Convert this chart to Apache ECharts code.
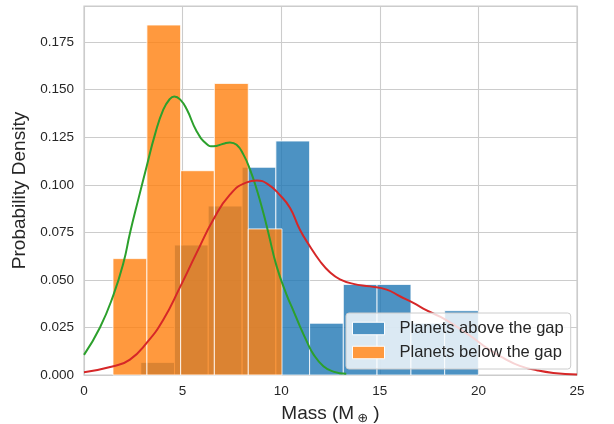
<!DOCTYPE html>
<html>
<head>
<meta charset="utf-8">
<script src="https://cdn.jsdelivr.net/npm/echarts@6/dist/echarts.min.js"></script>
<style>
html,body{margin:0;padding:0;background:#fff;}
#chart{width:614px;height:424px;}
</style>
</head>
<body>
<div id="chart"></div>
<script>
// Histogram: planets above the gap (blue)
const aboveEdges = [2.88, 4.59, 6.30, 8.02, 9.73, 11.44, 13.15, 14.86, 16.58, 18.29, 20.0];
const aboveHeights = [0.0066, 0.0683, 0.0888, 0.1092, 0.1230, 0.0272, 0.0476, 0.0476, 0.0272, 0.0338];
// Histogram: planets below the gap (orange)
const belowEdges = [1.47, 3.19, 4.90, 6.61, 8.33, 10.04];
const belowHeights = [0.0612, 0.1840, 0.1074, 0.1533, 0.0768];
// KDE curve: below the gap (green)
const kdeBelowX = [0, 0.81, 1.49, 2.0, 2.33, 2.75, 3.18, 3.60, 4.02, 4.36, 4.58, 4.87, 5.21, 5.71, 6.22, 6.56, 7.07, 7.40, 7.74, 8.08, 8.42, 8.76, 9.10, 9.35, 9.77, 10.28, 10.61, 10.95, 11.29, 11.63, 12.14, 12.64, 13.3];
const kdeBelowY = [0.0106, 0.0250, 0.0420, 0.0590, 0.0745, 0.0922, 0.1097, 0.1265, 0.1395, 0.1452, 0.1464, 0.1449, 0.1397, 0.1282, 0.1214, 0.1202, 0.1216, 0.1223, 0.1210, 0.1160, 0.1080, 0.0975, 0.0850, 0.0747, 0.0571, 0.0420, 0.0340, 0.0256, 0.0178, 0.0110, 0.0046, 0.0018, 0.0006];
// KDE curve: above the gap (red)
const kdeAboveX = [0, 1.49, 2.33, 3.18, 4.02, 4.87, 5.71, 6.56, 7.40, 8.25, 8.76, 9.30, 9.94, 10.45, 10.95, 11.46, 11.97, 12.47, 12.98, 13.66, 14.50, 15.35, 16.02, 16.70, 17.38, 18.08, 18.78, 19.60, 20.45, 21.30, 22.10, 23.0, 23.8, 25.0];
const kdeAboveY = [0.0015, 0.0046, 0.0081, 0.0169, 0.0291, 0.0462, 0.0642, 0.0817, 0.0948, 0.1013, 0.1022, 0.1005, 0.0945, 0.0878, 0.0764, 0.0676, 0.0598, 0.0540, 0.0503, 0.0479, 0.0466, 0.0449, 0.0414, 0.0379, 0.0340, 0.0305, 0.0262, 0.0205, 0.0140, 0.0088, 0.0048, 0.0024, 0.0011, 0.0003];
const xTicks = [0, 5, 10, 15, 20, 25];
const yTickStep = 0.025;

function bins(edges, heights) {
  return heights.map((h, i) => [edges[i], edges[i + 1], h]);
}
function pairs(xs, ys) { return xs.map((x, i) => [x, ys[i]]); }
function histSeries(name, data, color) {
  return {
    name: name, type: 'custom', data: data,
    encode: {x: [0, 1], y: 2},
    itemStyle: {color: color},
    renderItem: function (params, api) {
      const p0 = api.coord([api.value(0), api.value(2)]);
      const p1 = api.coord([api.value(1), 0]);
      return {
        type: 'rect',
        shape: {x: p0[0], y: p0[1], width: p1[0] - p0[0], height: p1[1] - p0[1]},
        style: {fill: color, stroke: '#ffffff', lineWidth: 1, opacity: 0.8}
      };
    }
  };
}

const chart = echarts.init(document.getElementById('chart'));
const txt = '#262626';
const ff = 'Liberation Sans, Arial, sans-serif';
chart.setOption({
  animation: false,
  grid: {left: 84, right: 37, top: 6, bottom: 49, show: true, borderColor: '#cccccc', borderWidth: 1.25,
    backgroundColor: 'transparent', containLabel: false, outerBoundsMode: 'none'},
  xAxis: {
    type: 'value', min: xTicks[0], max: xTicks[xTicks.length - 1], interval: 5,
    axisLine: {show: false}, axisTick: {show: false},
    splitLine: {show: true, lineStyle: {color: '#cccccc', width: 1.1}},
    axisLabel: {color: txt, fontSize: 13.5, margin: 9, fontFamily: ff},
    name: 'Mass (M{s|⊕} )', nameLocation: 'middle', nameGap: 28,
    nameTextStyle: {color: txt, fontSize: 19, fontFamily: ff,
      rich: {s: {fontSize: 13, color: txt, padding: [9, 0, 0, 3], fontFamily: 'DejaVu Sans, sans-serif'}}}
  },
  yAxis: {
    type: 'value', min: 0, max: 0.194, interval: yTickStep,
    axisLine: {show: false}, axisTick: {show: false},
    splitLine: {show: true, lineStyle: {color: '#cccccc', width: 1.1}},
    axisLabel: {color: txt, fontSize: 13.5, margin: 10, fontFamily: ff,
      formatter: function (v) {
        const k = v / yTickStep;
        return Math.abs(k - Math.round(k)) < 1e-6 ? v.toFixed(3) : '';
      }},
    name: 'Probability Density', nameLocation: 'middle', nameGap: 45, nameRotate: 90,
    nameTextStyle: {color: txt, fontSize: 19, fontFamily: ff}
  },
  legend: {
    orient: 'vertical', left: 346, top: 313, z: 10,
    padding: [7, 7, 8, 6], itemGap: 7, itemWidth: 32, itemHeight: 12.5,
    backgroundColor: 'rgba(255,255,255,0.8)', borderColor: '#cccccc', borderWidth: 1, borderRadius: 3,
    textStyle: {color: txt, fontSize: 16.5, lineHeight: 16, padding: [0, 0, 0, 10], fontFamily: ff},
    data: [
      {name: 'Planets above the gap', icon: 'rect', itemStyle: {color: '#4c92c3', borderColor: '#ffffff', borderWidth: 1}},
      {name: 'Planets below the gap', icon: 'rect', itemStyle: {color: '#ff993e', borderColor: '#ffffff', borderWidth: 1}}
    ]
  },
  series: [
    histSeries('Planets above the gap', bins(aboveEdges, aboveHeights), '#1f77b4'),
    histSeries('Planets below the gap', bins(belowEdges, belowHeights), '#ff7f0e'),
    {name: 'kde below', type: 'line', data: pairs(kdeBelowX, kdeBelowY), smooth: 0.5, showSymbol: false,
      lineStyle: {color: '#2ca02c', width: 2}, itemStyle: {color: '#2ca02c'}},
    {name: 'kde above', type: 'line', data: pairs(kdeAboveX, kdeAboveY), smooth: 0.5, showSymbol: false,
      lineStyle: {color: '#d62728', width: 2}, itemStyle: {color: '#d62728'}}
  ]
});
</script>
</body>
</html>
